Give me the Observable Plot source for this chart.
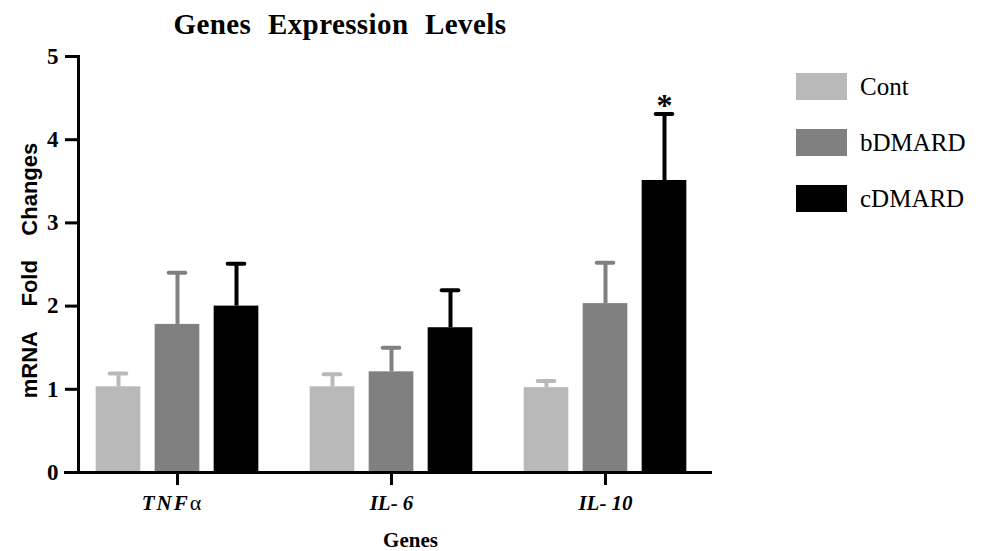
<!DOCTYPE html>
<html>
<head>
<meta charset="utf-8">
<script src="https://cdn.jsdelivr.net/npm/d3@7"></script>
<script src="https://cdn.jsdelivr.net/npm/@observablehq/plot@0.6"></script>
<style>
  html, body { margin: 0; padding: 0; background: #fff; }
  #wrap { position: relative; width: 984px; height: 551px; overflow: hidden; }
  #title { position: absolute; left: 140px; width: 400px; top: 8px; text-align: center; white-space: nowrap;
           font-family: "Liberation Serif", serif; font-weight: bold; font-size: 29px; letter-spacing: 0.4px; word-spacing: 9px; color: #000; }
  #legend { position: absolute; left: 796px; top: 73px; font-family: "Liberation Serif", serif; font-size: 25px; color: #000; }
  .item { display: flex; align-items: center; height: 27px; margin-bottom: 29px; }
  .sw { width: 51px; height: 27px; margin-right: 13px; }
</style>
</head>
<body>
<div id="wrap">
  <div id="chart"></div>
  <div id="title">Genes Expression Levels</div>
  <div id="legend"></div>
</div>
<script>
// ---- data ----
const genes = ["TNFα", "IL-6", "IL-10"];
const geneTickLabels = ["TNFα", "IL- 6", "IL- 10"];
const series = ["Cont", "bDMARD", "cDMARD"];
const seriesColors = ["#b8b9b8", "#808080", "#000000"];
const contValues   = [1.03, 1.03, 1.02];
const bdmardValues = [1.78, 1.21, 2.03];
const cdmardValues = [2.00, 1.74, 3.51];
const contSem   = [0.16, 0.15, 0.08];
const bdmardSem = [0.62, 0.29, 0.49];
const cdmardSem = [0.51, 0.45, 0.80];
const significance = [
  {gene: "IL-10", series: "cDMARD", mark: "*"}
];
const yTicks = [0, 1, 2, 3, 4, 5];

// ---- table ----
const valuesBySeries = [contValues, bdmardValues, cdmardValues];
const semBySeries = [contSem, bdmardSem, cdmardSem];
const rows = [];
series.forEach((s, si) => genes.forEach((g, gi) => {
  rows.push({gene: g, series: s, value: valuesBySeries[si][gi], top: valuesBySeries[si][gi] + semBySeries[si][gi]});
}));

const xRange = [69, 712];
const band = (xRange[1] - xRange[0]) / genes.length;
const barWidth = 45;
const step = 59;
const capWidth = 17;
const offsets = [-step, 0, step];

const marks = [];
series.forEach((s, si) => {
  const d = rows.filter(r => r.series === s);
  const col = seriesColors[si];
  marks.push(Plot.ruleX(d, {x: "gene", y1: "value", y2: "top", stroke: col, strokeWidth: 4, dx: offsets[si]}));
  marks.push(Plot.tickY(d, {x: "gene", y: "top", stroke: col, strokeWidth: 4, strokeLinecap: "round",
    insetLeft: (band - capWidth) / 2, insetRight: (band - capWidth) / 2, dx: offsets[si]}));
  marks.push(Plot.barY(d, {x: "gene", y: "value", fill: col,
    insetLeft: (band - barWidth) / 2, insetRight: (band - barWidth) / 2, dx: offsets[si]}));
});
const sigRows = significance.map(m => ({...m, top: rows.find(r => r.gene === m.gene && r.series === m.series).top, si: series.indexOf(m.series)}));
sigRows.forEach(m => {
  marks.push(Plot.text([m], {x: "gene", y: "top", text: "mark", dx: offsets[m.si], dy: 2, lineAnchor: "bottom",
    fontSize: 32, fontWeight: "bold", fontFamily: "Liberation Serif"}));
});

const plot = Plot.plot({
  width: 984,
  height: 551,
  marginTop: 56,
  marginBottom: 79,
  marginLeft: 78,
  marginRight: 272,
  style: {fontFamily: "Liberation Serif", background: "#fff", color: "#000"},
  x: {domain: genes, range: xRange, padding: 0},
  y: {domain: [0, 5]},
  marks: [
    ...marks,
    Plot.ruleY([0], {strokeWidth: 3}),
    Plot.ruleY([0], {strokeWidth: 3, dx: -14}),
    Plot.frame({anchor: "left", strokeWidth: 3}),
    Plot.axisY({ticks: yTicks, tickFormat: "d", tickSize: 13, tickPadding: 7, strokeWidth: 3, fontSize: 23, fontWeight: "bold", label: null}),
    Plot.axisX({tickSize: 13, tickPadding: 10, strokeWidth: 3, fontSize: 21, fontWeight: "bold", fontStyle: "italic",
      tickFormat: g => geneTickLabels[genes.indexOf(g)], label: null}),
    Plot.text(["Genes"], {frameAnchor: "bottom", dy: 74, dx: 15, lineAnchor: "bottom", fontSize: 21, fontWeight: "bold", fontFamily: "Liberation Serif"}),
    Plot.text(["mRNA\u00A0\u00A0\u00A0 Fold\u00A0\u00A0\u00A0 Changes"], {frameAnchor: "left", textAnchor: "middle", lineAnchor: "middle",
      rotate: -90, dx: -49, dy: 6, fontSize: 22, fontWeight: "bold", fontFamily: "Liberation Sans"})
  ]
});
document.getElementById("chart").appendChild(plot);

// style the TNFα tick label: slightly spaced letters, upright alpha
d3.select(plot).selectAll("text").each(function() {
  const t = d3.select(this);
  if (t.text() === "TNFα") {
    t.text(null);
    t.attr("dx", "-6");
    t.append("tspan").attr("letter-spacing", "2px").text("TNF");
    t.append("tspan").attr("font-style", "normal").attr("font-weight", "normal").attr("font-size", "22px").text("α");
  }
});

// ---- legend ----
const leg = document.getElementById("legend");
series.forEach((s, i) => {
  const it = document.createElement("div");
  it.className = "item";
  const sw = document.createElement("div");
  sw.className = "sw";
  sw.style.background = seriesColors[i];
  const t = document.createElement("span");
  t.textContent = s;
  it.appendChild(sw); it.appendChild(t);
  leg.appendChild(it);
});
</script>
</body>
</html>
